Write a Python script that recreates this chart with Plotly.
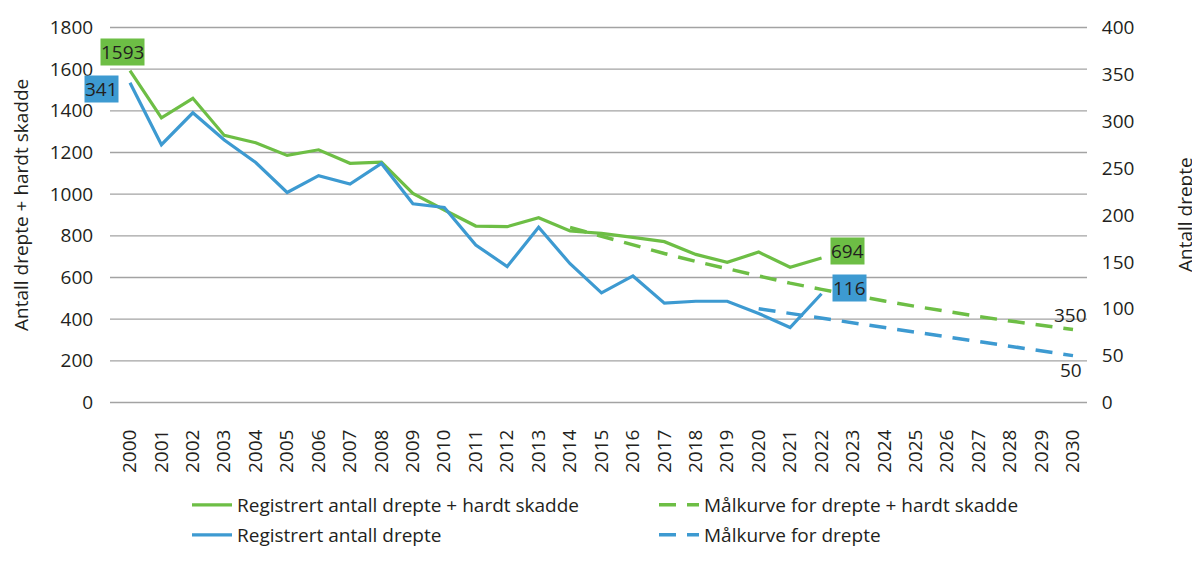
import plotly.graph_objects as go

years = list(range(2000, 2031))

reg_years = list(range(2000, 2023))
drepte_hardt = [1593, 1366, 1460, 1282, 1247, 1186, 1213, 1148, 1154, 1004,
                924, 847, 844, 887, 823, 812, 793, 772, 711, 673, 722, 649, 694]
drepte = [341, 275, 309, 280, 256, 224, 242, 233, 255, 212,
          208, 168, 145, 187, 148, 117, 135, 106, 108, 108, 95, 80, 116]

maal_dh_years = list(range(2014, 2031))
maal_dh = [840, 797, 755, 715, 677, 641, 605, 573, 543, 514, 487, 461, 436, 413, 391, 370, 350]

maal_d_years = list(range(2020, 2031))
maal_d = [100, 95, 90, 85, 80, 75, 70, 65, 60, 55, 50]

left_ticks = [0, 200, 400, 600, 800, 1000, 1200, 1400, 1600, 1800]
right_ticks = [0, 50, 100, 150, 200, 250, 300, 350, 400]

GREEN = "#6DBE45"
BLUE = "#3D9AD1"
TXT = "#231F20"
GRID = "#A3A3A3"
FONT = "Open Sans"
W, H = 1192, 554  # page body has an 8px margin
XR = [1999.364, 2030.445]
PADL = 60
PADR = PADL * 400 / 1800

fig = go.Figure()

# horizontal gridlines at the left-axis ticks (drawn as one trace under the data)
gx, gy = [], []
for v in left_ticks:
    gx += [XR[0], XR[1], None]
    gy += [v, v, None]
fig.add_trace(go.Scatter(x=gx, y=gy, mode="lines", line=dict(color=GRID, width=1.3),
                         showlegend=False, hoverinfo="skip", cliponaxis=False))

fig.add_trace(go.Scatter(x=reg_years, y=drepte_hardt, mode="lines",
                         name="Registrert antall drepte + hardt skadde",
                         line=dict(color=GREEN, width=3.2), legend="legend"))
fig.add_trace(go.Scatter(x=reg_years, y=drepte, mode="lines",
                         name="Registrert antall drepte", yaxis="y2",
                         line=dict(color=BLUE, width=3.2), legend="legend2"))
fig.add_trace(go.Scatter(x=maal_dh_years, y=maal_dh, mode="lines",
                         name="Målkurve for drepte + hardt skadde",
                         line=dict(color=GREEN, width=3.5, dash="17px,11px"), legend="legend3"))
fig.add_trace(go.Scatter(x=maal_d_years, y=maal_d, mode="lines",
                         name="Målkurve for drepte", yaxis="y2",
                         line=dict(color=BLUE, width=3.5, dash="17px,11px"), legend="legend4"))

def box(x, y, text, color, xs, ys, yref="y"):
    fig.add_annotation(x=x, y=y, xref="x", yref=yref, text=text, showarrow=False,
                       xshift=xs, yshift=ys, bgcolor=color, borderpad=0,
                       font=dict(family=FONT, size=19, color=TXT))

box(2000, drepte_hardt[0], str(drepte_hardt[0]), GREEN, -7, 19)
box(2000, drepte[0], str(drepte[0]), BLUE, -28, -6.5, "y2")
box(2022, drepte_hardt[-1], str(drepte_hardt[-1]), GREEN, 26, 7)
box(2022, drepte[-1], str(drepte[-1]), BLUE, 28, 6, "y2")
fig.add_annotation(x=2030, y=maal_dh[-1], xref="x", yref="y", text=str(maal_dh[-1]),
                   showarrow=False, xshift=-3, yshift=15,
                   font=dict(family=FONT, size=19, color=TXT))
fig.add_annotation(x=2030, y=maal_d[-1], xref="x", yref="y2", text=str(maal_d[-1]),
                   showarrow=False, xshift=-2, yshift=-14,
                   font=dict(family=FONT, size=19, color=TXT))

# axis titles
fig.add_annotation(x=0, y=0.5, xref="paper", yref="paper", xanchor="center", yanchor="middle",
                   xshift=-89, yshift=10,
                   text="Antall drepte + hardt skadde", textangle=-90, showarrow=False,
                   font=dict(family=FONT, size=19, color=TXT))
fig.add_annotation(x=1, y=0.5, xref="paper", yref="paper", xanchor="center", yanchor="middle",
                   xshift=98, yshift=0,
                   text="Antall drepte", textangle=-90, showarrow=False,
                   font=dict(family=FONT, size=19, color=TXT))

leg_common = dict(font=dict(family=FONT, size=19, color=TXT), bgcolor="rgba(0,0,0,0)",
                  xref="container", yref="container", xanchor="left", yanchor="middle",
                  itemwidth=40)

fig.update_layout(
    width=W, height=H,
    margin=dict(l=102, r=113, t=6.8, b=146.8, autoexpand=False),
    paper_bgcolor="white", plot_bgcolor="white",
    font=dict(family=FONT, size=19, color=TXT),
    showlegend=True,
    legend=dict(x=179 / W, y=1 - 497 / H, **leg_common),
    legend2=dict(x=179 / W, y=1 - 527 / H, **leg_common),
    legend3=dict(x=646 / W, y=1 - 497 / H, **leg_common),
    legend4=dict(x=646 / W, y=1 - 527 / H, **leg_common),
    xaxis=dict(range=XR, tickmode="array", tickvals=years,
               ticktext=[str(y) for y in years], tickangle=-90, automargin=False,
               showgrid=False, zeroline=False, showline=False,
               ticks="outside", ticklen=6, tickcolor="rgba(0,0,0,0)",
               tickfont=dict(family=FONT, size=19, color=TXT)),
    yaxis=dict(range=[-PADL, 1800 + PADL], tickvals=left_ticks, showgrid=False, automargin=False,
               zeroline=False, showline=False,
               ticks="outside", ticklen=12, tickcolor="rgba(0,0,0,0)",
               tickfont=dict(family=FONT, size=19, color=TXT)),
    yaxis2=dict(range=[-PADR, 400 + PADR], tickvals=right_ticks,
                overlaying="y", side="right",
                showgrid=False, zeroline=False, showline=False, automargin=False,
                ticks="outside", ticklen=10, tickcolor="rgba(0,0,0,0)",
                tickfont=dict(family=FONT, size=19, color=TXT)),
)

fig.write_html("out.html")
